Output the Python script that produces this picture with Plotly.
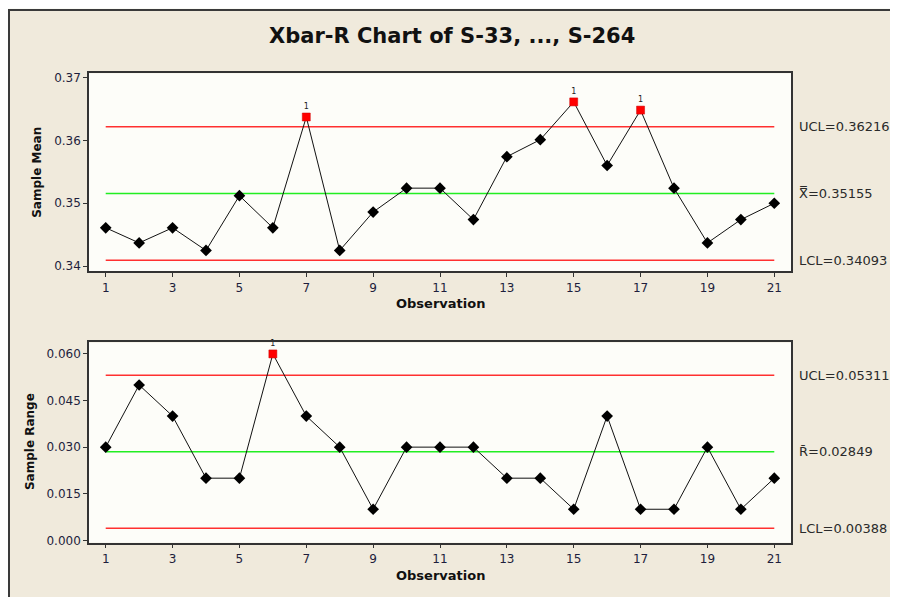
import plotly.graph_objects as go

obs = list(range(1, 22))
sample_mean = [0.3461, 0.3437, 0.3461, 0.3425, 0.3512, 0.3461, 0.3637, 0.3425, 0.3486, 0.3524,
               0.3524, 0.3474, 0.3574, 0.3601, 0.3661, 0.3560, 0.3648, 0.3524, 0.3437, 0.3474, 0.3500]
sample_range = [0.03, 0.05, 0.04, 0.02, 0.02, 0.06, 0.04, 0.03, 0.01, 0.03,
                0.03, 0.03, 0.02, 0.02, 0.01, 0.04, 0.01, 0.01, 0.03, 0.01, 0.02]
xbar_limits = {"UCL": 0.36216, "CL": 0.35155, "LCL": 0.34093}
r_limits = {"UCL": 0.05311, "CL": 0.02849, "LCL": 0.00388}
mean_flags = [7, 15, 17]
range_flags = [6]
x_ticks = list(range(1, 22, 2))
mean_ticks = [0.34, 0.35, 0.36, 0.37]
mean_ticktext = ["0.34", "0.35", "0.36", "0.37"]
range_ticks = [0.0, 0.015, 0.03, 0.045, 0.06]
range_ticktext = ["0.000", "0.015", "0.030", "0.045", "0.060"]

# the page body has an 8px margin: figure is drawn 8px right/down
OFF = 8
W, H = 898 - OFF, 597 - OFF
FONT = "DejaVu Sans"
RED = "#ff3030"
GREEN = "#22ee22"


def px(x):
    return (x - OFF) / W


def py(y):
    return (H - (y - OFF)) / H


fig = go.Figure()


def add_chart(vals, lim, flags, xa, ya):
    x0, x1 = obs[0], obs[-1]
    for key, col in (("UCL", RED), ("CL", GREEN), ("LCL", RED)):
        fig.add_trace(go.Scatter(x=[x0, x1], y=[lim[key], lim[key]], mode="lines",
                                 line=dict(color=col, width=1.5), xaxis=xa, yaxis=ya,
                                 hoverinfo="skip", showlegend=False))
    sizes = [0 if o in flags else 9 for o in obs]
    fig.add_trace(go.Scatter(x=obs, y=vals, mode="lines+markers",
                             line=dict(color="#111111", width=1),
                             marker=dict(symbol="diamond", size=sizes, color="#000000",
                                         opacity=1, line=dict(width=0)),
                             xaxis=xa, yaxis=ya, showlegend=False))
    fy = [vals[obs.index(f)] for f in flags]
    fig.add_trace(go.Scatter(x=flags, y=fy, mode="markers+text", text=["1"] * len(flags),
                             textposition="top center", cliponaxis=False,
                             textfont=dict(family=FONT, size=8, color="#222222"),
                             marker=dict(symbol="square", size=8, color="#ff0000", opacity=1,
                                         line=dict(color="#cc0000", width=0.5)),
                             xaxis=xa, yaxis=ya, showlegend=False))


add_chart(sample_mean, xbar_limits, mean_flags, "x", "y")
add_chart(sample_range, r_limits, range_flags, "x2", "y2")

xdom = [px(89), px(791)]
top_dom = [py(272), py(71)]
bot_dom = [py(547), py(344)]

axis_common = dict(showgrid=False, zeroline=False, showline=True, mirror=True,
                   linecolor="#333333", linewidth=1.5, ticks="outside", ticklen=4,
                   tickcolor="#333333",
                   tickfont=dict(family=FONT, size=12, color="#1e1e3c"))

fig.update_layout(
    width=W, height=H,
    margin=dict(l=0, r=0, t=0, b=0),
    paper_bgcolor="#fbfbf6",
    plot_bgcolor="#fdfdf9",
    showlegend=False,
    xaxis=dict(domain=xdom, anchor="y", range=[0.5, 21.5], tickvals=x_ticks, **axis_common),
    yaxis=dict(domain=top_dom, anchor="x", range=[0.33917, 0.37067],
               tickvals=mean_ticks, ticktext=mean_ticktext, **axis_common),
    xaxis2=dict(domain=xdom, anchor="y2", range=[0.5, 21.5], tickvals=x_ticks, **axis_common),
    yaxis2=dict(domain=bot_dom, anchor="x2", range=[-0.00076, 0.0637],
                tickvals=range_ticks, ticktext=range_ticktext, **axis_common),
)

# outer beige frame
fig.add_shape(type="rect", xref="paper", yref="paper",
              x0=px(9), x1=px(897), y0=-0.05, y1=py(7),
              fillcolor="#f0eadc", line=dict(color="#3a3a3a", width=2), layer="below")
# near-white plot areas on top of the frame
for xr, yr in (("x domain", "y domain"), ("x2 domain", "y2 domain")):
    fig.add_shape(type="rect", xref=xr, yref=yr, x0=0, x1=1, y0=0, y1=1,
                  fillcolor="#fdfdf9", line=dict(width=0), layer="below")

annots = []
annots.append(dict(text="<b>Xbar-R Chart of S-33, ..., S-264</b>", x=px(452), y=py(33),
                   xref="paper", yref="paper", showarrow=False, xanchor="center", yanchor="middle",
                   font=dict(family=FONT, size=21, color="#111111")))
for yy in (305, 580):
    annots.append(dict(text="<b>Observation</b>", x=px(440), y=py(yy),
                       xref="paper", yref="paper", showarrow=False, xanchor="center", yanchor="middle",
                       font=dict(family=FONT, size=13, color="#111111")))
annots.append(dict(text="<b>Sample Mean</b>", x=px(37), y=py(172), textangle=-90,
                   xref="paper", yref="paper", showarrow=False, xanchor="center", yanchor="middle",
                   font=dict(family=FONT, size=12, color="#111111")))
annots.append(dict(text="<b>Sample Range</b>", x=px(30), y=py(445), textangle=-90,
                   xref="paper", yref="paper", showarrow=False, xanchor="center", yanchor="middle",
                   font=dict(family=FONT, size=12, color="#111111")))


def lim_labels(lim, sym, yref):
    labs = [("UCL=%.5f" % lim["UCL"], lim["UCL"]),
            ("%s=%.5f" % (sym, lim["CL"]), lim["CL"]),
            ("LCL=%.5f" % lim["LCL"], lim["LCL"])]
    for t, v in labs:
        annots.append(dict(text=t, x=px(797), y=v, xref="paper", yref=yref, showarrow=False,
                           xanchor="left", yanchor="middle",
                           font=dict(family=FONT, size=13, color="#2a2a2a")))


lim_labels(xbar_limits, "X\u033f", "y")
lim_labels(r_limits, "R\u0304", "y2")

fig.update_layout(annotations=annots)
fig.write_html("out.html")
